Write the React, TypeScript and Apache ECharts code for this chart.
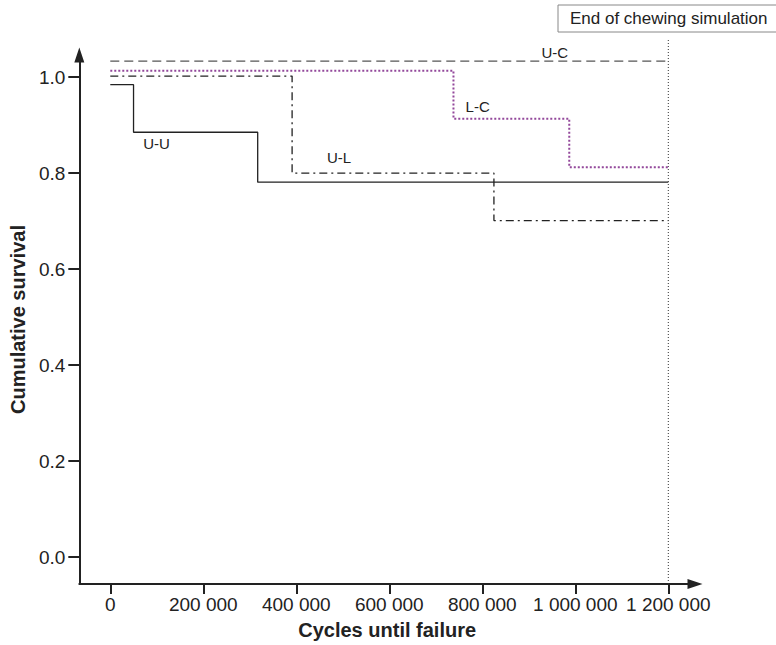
import React, { useEffect, useRef } from "react";
import * as echarts from "echarts";

// Kaplan–Meier step data (cycles, cumulative survival)
const uuTimes = [0, 50000, 317000, 1200000];
const uuSurv = [0.984, 0.885, 0.781, 0.781];
const ucTimes = [0, 1200000];
const ucSurv = [1.033, 1.033];
const lcTimes = [0, 738000, 987000, 1200000];
const lcSurv = [1.013, 0.913, 0.812, 0.812];
const ulTimes = [0, 391000, 825000, 1200000];
const ulSurv = [1.002, 0.8, 0.701, 0.701];

const xTicks = [0, 200000, 400000, 600000, 800000, 1000000, 1200000];
const yTicks = [0, 0.2, 0.4, 0.6, 0.8, 1.0];

const endOfSimulation = 1200000;
const endLabel = "End of chewing simulation";

const curveLabels = [
  { text: "U-C", x: 956000, y: 1.052 },
  { text: "L-C", x: 790000, y: 0.938 },
  { text: "U-U", x: 99500, y: 0.861 },
  { text: "U-L", x: 492000, y: 0.832 },
];

const XMIN = -66600;
const XMAX = 1257400;
const YMIN = -0.056;
const YMAX = 1.0459;

const FONT = "'Liberation Sans', Arial, Helvetica, sans-serif";
const INK = "#222";

const zip = (xs: number[], ys: number[]) => xs.map((x, i) => [x, ys[i]]);

export default function App() {
  const ref = useRef<HTMLDivElement>(null);
  useEffect(() => {
    if (!ref.current) return;
    const chart = echarts.init(ref.current, undefined, { renderer: "svg" });
    const stepSeries = (name: string, xs: number[], ys: number[], lineStyle: any) => ({
      name,
      type: "line",
      step: "end",
      data: zip(xs, ys),
      symbol: "none",
      silent: true,
      clip: false,
      lineStyle,
    });
    chart.setOption({
      animation: false,
      grid: { left: 79, right: 81, top: 55, bottom: 60, containLabel: false },
      xAxis: {
        type: "value",
        min: XMIN,
        max: XMAX,
        name: "Cycles until failure",
        nameLocation: "middle",
        nameGap: 36,
        nameTextStyle: { fontFamily: FONT, fontWeight: "bold", fontSize: 20, color: INK },
        splitLine: { show: false },
        axisLine: {
          show: true,
          onZero: false,
          symbol: ["none", "triangle"],
          symbolSize: [10, 15],
          lineStyle: { color: INK, width: 2 },
        },
        axisTick: { show: true, customValues: xTicks, length: 10, lineStyle: { color: INK, width: 2 } },
        axisLabel: {
          customValues: xTicks,
          margin: 11,
          fontFamily: FONT,
          fontSize: 19,
          color: INK,
          formatter: (v: number) => String(v).replace(/\B(?=(\d{3})+(?!\d))/g, " "),
        },
      },
      yAxis: {
        type: "value",
        min: YMIN,
        max: YMAX,
        name: "Cumulative survival",
        nameLocation: "middle",
        nameGap: 48,
        nameRotate: 90,
        nameTextStyle: { fontFamily: FONT, fontWeight: "bold", fontSize: 20, color: INK },
        splitLine: { show: false },
        axisLine: {
          show: true,
          onZero: false,
          symbol: ["none", "triangle"],
          symbolSize: [10, 15],
          lineStyle: { color: INK, width: 2 },
        },
        axisTick: { show: true, customValues: yTicks, length: 11, lineStyle: { color: INK, width: 2 } },
        axisLabel: {
          customValues: yTicks,
          margin: 14,
          fontFamily: FONT,
          fontSize: 19,
          color: INK,
          formatter: (v: number) => v.toFixed(1),
        },
      },
      series: [
        stepSeries("U-C", ucTimes, ucSurv, { color: "#555", width: 1.3, type: [9, 5] }),
        stepSeries("L-C", lcTimes, lcSurv, { color: "#93489b", width: 2, type: [2, 2] }),
        stepSeries("U-L", ulTimes, ulSurv, { color: INK, width: 1.3, type: [8, 4, 2, 4] }),
        stepSeries("U-U", uuTimes, uuSurv, { color: INK, width: 1.3, type: "solid" }),
        {
          name: "end",
          type: "line",
          data: [
            [endOfSimulation, YMIN],
            [endOfSimulation, 1.079],
          ],
          symbol: "none",
          silent: true,
          clip: false,
          lineStyle: { color: "#333", width: 1, type: [1, 2] },
        },
      ],
    });
    const labelGraphics = curveLabels.map((l) => {
      const [px, py] = chart.convertToPixel({ gridIndex: 0 }, [l.x, l.y]) as number[];
      return {
        type: "text",
        x: px,
        y: py,
        silent: true,
        style: {
          text: l.text,
          fontFamily: FONT,
          fontSize: 15,
          fill: INK,
          align: "center",
          verticalAlign: "middle",
        },
      };
    });
    chart.setOption({
      graphic: [
        {
          type: "rect",
          shape: { x: 558, y: 5, width: 230, height: 27 },
          silent: true,
          style: { fill: "#fff", stroke: "#888", lineWidth: 1 },
        },
        {
          type: "text",
          x: 570,
          y: 18.5,
          silent: true,
          style: {
            text: endLabel,
            fontFamily: FONT,
            fontSize: 17,
            fill: INK,
            align: "left",
            verticalAlign: "middle",
          },
        },
        ...labelGraphics,
      ],
    });
    return () => chart.dispose();
  }, []);
  return (
    <div
      ref={ref}
      style={{ position: "fixed", left: 0, top: 0, width: 776, height: 645, background: "#fff" }}
    />
  );
}
